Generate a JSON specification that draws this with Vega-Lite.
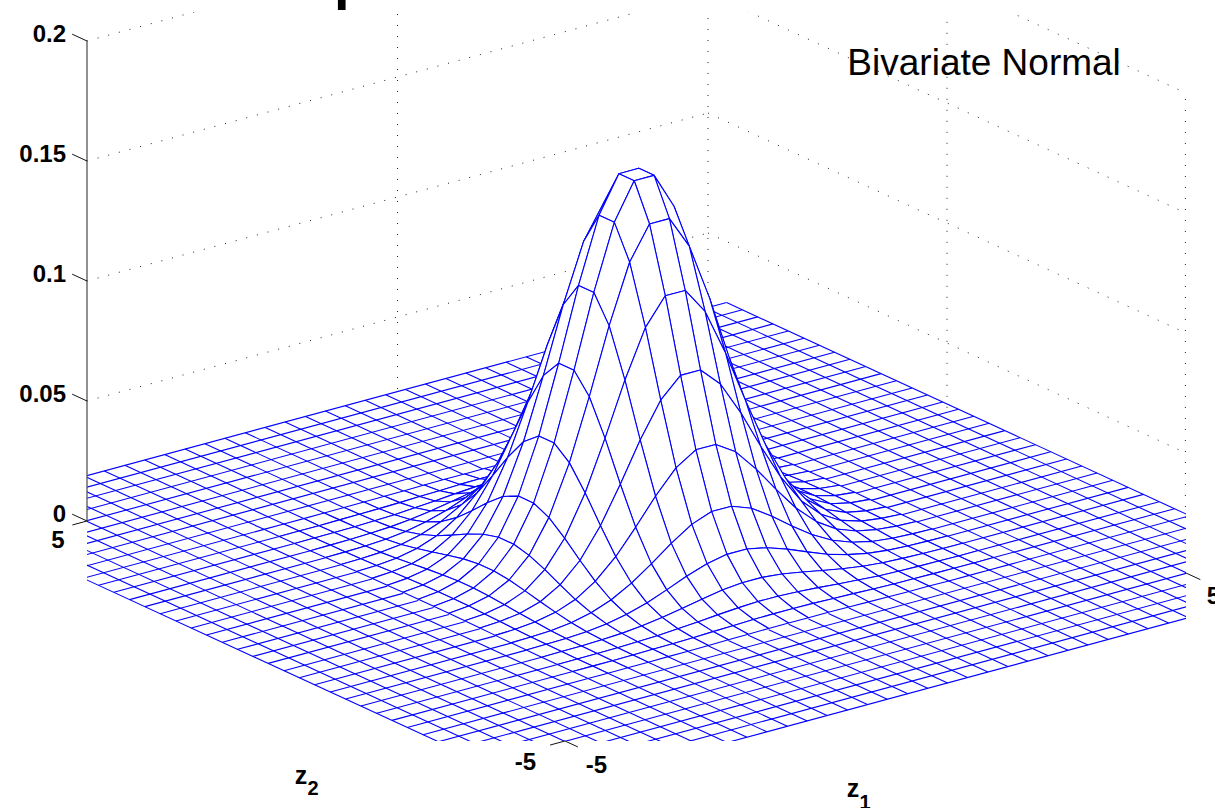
{"$schema":"https://vega.github.io/schema/vega-lite/v6.json","autosize":{"type":"none"},"padding":{"left":87,"top":12,"right":29,"bottom":67},"width":1099,"height":729,"background":"white","config":{"view":{"stroke":null}},"encoding":{"x":{"field":"x","type":"quantitative","scale":{"domain":[87,1186],"nice":false,"zero":false},"axis":null},"y":{"field":"y","type":"quantitative","scale":{"domain":[741,12],"nice":false,"zero":false},"axis":null}},"layer":[
{"data":{"values":[{"a":-5,"b":5,"h":0.05,"c":5,"d":5,"e":0.05},{"a":-5,"b":5,"h":0.1,"c":5,"d":5,"e":0.1},{"a":-5,"b":5,"h":0.15,"c":5,"d":5,"e":0.15},{"a":-5,"b":5,"h":0.2,"c":5,"d":5,"e":0.2},{"a":5,"b":5,"h":0.05,"c":5,"d":-5,"e":0.05},{"a":5,"b":5,"h":0.1,"c":5,"d":-5,"e":0.1},{"a":5,"b":5,"h":0.15,"c":5,"d":-5,"e":0.15},{"a":5,"b":5,"h":0.2,"c":5,"d":-5,"e":0.2},{"a":0,"b":5,"h":0.02,"c":0,"d":5,"e":0.2},{"a":5,"b":5,"h":0.02,"c":5,"d":5,"e":0.2},{"a":5,"b":0,"h":0.023,"c":5,"d":0,"e":0.2},{"a":4.99,"b":-5,"h":0.023,"c":4.99,"d":-5,"e":0.2}]},"transform":[{"calculate":"636.5+62.1*datum.a-47.8*datum.b","as":"x"},{"calculate":"547-16.8*datum.a-22*datum.b-2400*datum.h","as":"y"},{"calculate":"636.5+62.1*datum.c-47.8*datum.d","as":"xe"},{"calculate":"547-16.8*datum.c-22*datum.d-2400*datum.e","as":"ye"}],"mark":{"type":"rule","clip":true,"color":"#222222","strokeWidth":1,"strokeDash":[1,10]},"encoding":{"x2":{"field":"xe"},"y2":{"field":"ye"}}},
{"data":{"name":"mesh","values":[{"k":-6.3},{"k":-5.97},{"k":-5.65},{"k":-5.33},{"k":-5.01},{"k":-4.68},{"k":-4.36},{"k":-4.04},{"k":-3.72},{"k":-3.39},{"k":-3.07},{"k":-2.75},{"k":-2.42},{"k":-2.1},{"k":-1.78},{"k":-1.45},{"k":-1.13},{"k":-0.81},{"k":-0.48},{"k":-0.16},{"k":0.16},{"k":0.48},{"k":0.81},{"k":1.13},{"k":1.45},{"k":1.78},{"k":2.1},{"k":2.42},{"k":2.75},{"k":3.07},{"k":3.39},{"k":3.72},{"k":4.04},{"k":4.36},{"k":4.68},{"k":5.01},{"k":5.33},{"k":5.65},{"k":5.97},{"k":6.3}]},"transform":[{"calculate":"abs(datum.k)<3.4?[-6.3,3.39]:[-6.3]","as":"u"},{"calculate":"abs(datum.k)<3.4?[-3.39,6.3]:[6.3]","as":"v"},{"flatten":["u","v"]},{"calculate":"636.5+62.1*datum.k-47.8*datum.u","as":"x"},{"calculate":"547-16.8*datum.k-22*datum.u","as":"y"},{"calculate":"636.5+62.1*datum.k-47.8*datum.v","as":"xe"},{"calculate":"547-16.8*datum.k-22*datum.v","as":"ye"}],"mark":{"type":"rule","clip":true,"color":"#0000ff","strokeWidth":1.1},"encoding":{"x2":{"field":"xe"},"y2":{"field":"ye"}}},
{"data":{"name":"mesh"},"transform":[{"calculate":"abs(datum.k)<3.4?[-6.3,3.39]:[-6.3]","as":"u"},{"calculate":"abs(datum.k)<3.4?[-3.39,6.3]:[6.3]","as":"v"},{"flatten":["u","v"]},{"calculate":"636.5+62.1*datum.u-47.8*datum.k","as":"x"},{"calculate":"547-16.8*datum.u-22*datum.k","as":"y"},{"calculate":"636.5+62.1*datum.v-47.8*datum.k","as":"xe"},{"calculate":"547-16.8*datum.v-22*datum.k","as":"ye"}],"mark":{"type":"rule","clip":true,"color":"#0000ff","strokeWidth":1.1},"encoding":{"x2":{"field":"xe"},"y2":{"field":"ye"}}},
{"data":{"values":[
{"a":3.39,"b":3.39,"h":0},{"a":3.39,"b":3.07,"h":0},{"a":3.39,"b":2.75,"h":0},{"a":3.39,"b":2.42,"h":0},{"a":3.39,"b":2.1,"h":0.0001},{"a":3.39,"b":1.78,"h":0.0001},{"a":3.39,"b":1.45,"h":0.0002},{"a":3.39,"b":1.13,"h":0.0003},{"a":3.39,"b":0.81,"h":0.0004},{"a":3.39,"b":0.48,"h":0.0005},{"a":3.39,"b":0.16,"h":0.0005},{"a":3.39,"b":-0.16,"h":0.0005},{"a":3.39,"b":-0.48,"h":0.0005},{"a":3.39,"b":-0.81,"h":0.0004},{"a":3.39,"b":-1.13,"h":0.0003},{"a":3.39,"b":-1.45,"h":0.0002},{"a":3.39,"b":-1.78,"h":0.0001},{"a":3.39,"b":-2.1,"h":0.0001},{"a":3.39,"b":-2.42,"h":0},{"a":3.39,"b":-2.75,"h":0},{"a":3.39,"b":-3.07,"h":0},{"a":3.39,"b":-3.39,"h":0},
{"a":3.07,"b":3.39,"h":0},{"a":3.07,"b":3.07,"h":0},{"a":3.07,"b":2.75,"h":0},{"a":3.07,"b":2.42,"h":0.0001},{"a":3.07,"b":2.1,"h":0.0002},{"a":3.07,"b":1.78,"h":0.0003},{"a":3.07,"b":1.45,"h":0.0005},{"a":3.07,"b":1.13,"h":0.0008},{"a":3.07,"b":0.81,"h":0.001},{"a":3.07,"b":0.48,"h":0.0013},{"a":3.07,"b":0.16,"h":0.0014},{"a":3.07,"b":-0.16,"h":0.0014},{"a":3.07,"b":-0.48,"h":0.0013},{"a":3.07,"b":-0.81,"h":0.001},{"a":3.07,"b":-1.13,"h":0.0008},{"a":3.07,"b":-1.45,"h":0.0005},{"a":3.07,"b":-1.78,"h":0.0003},{"a":3.07,"b":-2.1,"h":0.0002},{"a":3.07,"b":-2.42,"h":0.0001},{"a":3.07,"b":-2.75,"h":0},{"a":3.07,"b":-3.07,"h":0},{"a":3.07,"b":-3.39,"h":0},
{"a":2.75,"b":3.39,"h":0},{"a":2.75,"b":3.07,"h":0},{"a":2.75,"b":2.75,"h":0.0001},{"a":2.75,"b":2.42,"h":0.0002},{"a":2.75,"b":2.1,"h":0.0004},{"a":2.75,"b":1.78,"h":0.0007},{"a":2.75,"b":1.45,"h":0.0013},{"a":2.75,"b":1.13,"h":0.0019},{"a":2.75,"b":0.81,"h":0.0026},{"a":2.75,"b":0.48,"h":0.0032},{"a":2.75,"b":0.16,"h":0.0036},{"a":2.75,"b":-0.16,"h":0.0036},{"a":2.75,"b":-0.48,"h":0.0032},{"a":2.75,"b":-0.81,"h":0.0026},{"a":2.75,"b":-1.13,"h":0.0019},{"a":2.75,"b":-1.45,"h":0.0013},{"a":2.75,"b":-1.78,"h":0.0007},{"a":2.75,"b":-2.1,"h":0.0004},{"a":2.75,"b":-2.42,"h":0.0002},{"a":2.75,"b":-2.75,"h":0.0001},{"a":2.75,"b":-3.07,"h":0},{"a":2.75,"b":-3.39,"h":0},
{"a":2.42,"b":3.39,"h":0},{"a":2.42,"b":3.07,"h":0.0001},{"a":2.42,"b":2.75,"h":0.0002},{"a":2.42,"b":2.42,"h":0.0005},{"a":2.42,"b":2.1,"h":0.0009},{"a":2.42,"b":1.78,"h":0.0017},{"a":2.42,"b":1.45,"h":0.003},{"a":2.42,"b":1.13,"h":0.0045},{"a":2.42,"b":0.81,"h":0.0061},{"a":2.42,"b":0.48,"h":0.0076},{"a":2.42,"b":0.16,"h":0.0084},{"a":2.42,"b":-0.16,"h":0.0084},{"a":2.42,"b":-0.48,"h":0.0076},{"a":2.42,"b":-0.81,"h":0.0061},{"a":2.42,"b":-1.13,"h":0.0045},{"a":2.42,"b":-1.45,"h":0.003},{"a":2.42,"b":-1.78,"h":0.0017},{"a":2.42,"b":-2.1,"h":0.0009},{"a":2.42,"b":-2.42,"h":0.0005},{"a":2.42,"b":-2.75,"h":0.0002},{"a":2.42,"b":-3.07,"h":0.0001},{"a":2.42,"b":-3.39,"h":0},
{"a":2.1,"b":3.39,"h":0.0001},{"a":2.1,"b":3.07,"h":0.0002},{"a":2.1,"b":2.75,"h":0.0004},{"a":2.1,"b":2.42,"h":0.0009},{"a":2.1,"b":2.1,"h":0.0019},{"a":2.1,"b":1.78,"h":0.0036},{"a":2.1,"b":1.45,"h":0.0061},{"a":2.1,"b":1.13,"h":0.0093},{"a":2.1,"b":0.81,"h":0.0127},{"a":2.1,"b":0.48,"h":0.0156},{"a":2.1,"b":0.16,"h":0.0173},{"a":2.1,"b":-0.16,"h":0.0173},{"a":2.1,"b":-0.48,"h":0.0156},{"a":2.1,"b":-0.81,"h":0.0127},{"a":2.1,"b":-1.13,"h":0.0093},{"a":2.1,"b":-1.45,"h":0.0061},{"a":2.1,"b":-1.78,"h":0.0036},{"a":2.1,"b":-2.1,"h":0.0019},{"a":2.1,"b":-2.42,"h":0.0009},{"a":2.1,"b":-2.75,"h":0.0004},{"a":2.1,"b":-3.07,"h":0.0002},{"a":2.1,"b":-3.39,"h":0.0001},
{"a":1.78,"b":3.39,"h":0.0001},{"a":1.78,"b":3.07,"h":0.0003},{"a":1.78,"b":2.75,"h":0.0007},{"a":1.78,"b":2.42,"h":0.0017},{"a":1.78,"b":2.1,"h":0.0036},{"a":1.78,"b":1.78,"h":0.0067},{"a":1.78,"b":1.45,"h":0.0114},{"a":1.78,"b":1.13,"h":0.0172},{"a":1.78,"b":0.81,"h":0.0235},{"a":1.78,"b":0.48,"h":0.0291},{"a":1.78,"b":0.16,"h":0.0322},{"a":1.78,"b":-0.16,"h":0.0322},{"a":1.78,"b":-0.48,"h":0.0291},{"a":1.78,"b":-0.81,"h":0.0235},{"a":1.78,"b":-1.13,"h":0.0172},{"a":1.78,"b":-1.45,"h":0.0114},{"a":1.78,"b":-1.78,"h":0.0067},{"a":1.78,"b":-2.1,"h":0.0036},{"a":1.78,"b":-2.42,"h":0.0017},{"a":1.78,"b":-2.75,"h":0.0007},{"a":1.78,"b":-3.07,"h":0.0003},{"a":1.78,"b":-3.39,"h":0.0001},
{"a":1.45,"b":3.39,"h":0.0002},{"a":1.45,"b":3.07,"h":0.0005},{"a":1.45,"b":2.75,"h":0.0013},{"a":1.45,"b":2.42,"h":0.003},{"a":1.45,"b":2.1,"h":0.0061},{"a":1.45,"b":1.78,"h":0.0114},{"a":1.45,"b":1.45,"h":0.0194},{"a":1.45,"b":1.13,"h":0.0294},{"a":1.45,"b":0.81,"h":0.0401},{"a":1.45,"b":0.48,"h":0.0496},{"a":1.45,"b":0.16,"h":0.0549},{"a":1.45,"b":-0.16,"h":0.0549},{"a":1.45,"b":-0.48,"h":0.0496},{"a":1.45,"b":-0.81,"h":0.0401},{"a":1.45,"b":-1.13,"h":0.0294},{"a":1.45,"b":-1.45,"h":0.0194},{"a":1.45,"b":-1.78,"h":0.0114},{"a":1.45,"b":-2.1,"h":0.0061},{"a":1.45,"b":-2.42,"h":0.003},{"a":1.45,"b":-2.75,"h":0.0013},{"a":1.45,"b":-3.07,"h":0.0005},{"a":1.45,"b":-3.39,"h":0.0002},
{"a":1.13,"b":3.39,"h":0.0003},{"a":1.13,"b":3.07,"h":0.0008},{"a":1.13,"b":2.75,"h":0.0019},{"a":1.13,"b":2.42,"h":0.0045},{"a":1.13,"b":2.1,"h":0.0093},{"a":1.13,"b":1.78,"h":0.0172},{"a":1.13,"b":1.45,"h":0.0294},{"a":1.13,"b":1.13,"h":0.0444},{"a":1.13,"b":0.81,"h":0.0606},{"a":1.13,"b":0.48,"h":0.0749},{"a":1.13,"b":0.16,"h":0.083},{"a":1.13,"b":-0.16,"h":0.083},{"a":1.13,"b":-0.48,"h":0.0749},{"a":1.13,"b":-0.81,"h":0.0606},{"a":1.13,"b":-1.13,"h":0.0444},{"a":1.13,"b":-1.45,"h":0.0294},{"a":1.13,"b":-1.78,"h":0.0172},{"a":1.13,"b":-2.1,"h":0.0093},{"a":1.13,"b":-2.42,"h":0.0045},{"a":1.13,"b":-2.75,"h":0.0019},{"a":1.13,"b":-3.07,"h":0.0008},{"a":1.13,"b":-3.39,"h":0.0003},
{"a":0.81,"b":3.39,"h":0.0004},{"a":0.81,"b":3.07,"h":0.001},{"a":0.81,"b":2.75,"h":0.0026},{"a":0.81,"b":2.42,"h":0.0061},{"a":0.81,"b":2.1,"h":0.0127},{"a":0.81,"b":1.78,"h":0.0235},{"a":0.81,"b":1.45,"h":0.0401},{"a":0.81,"b":1.13,"h":0.0606},{"a":0.81,"b":0.81,"h":0.0826},{"a":0.81,"b":0.48,"h":0.1022},{"a":0.81,"b":0.16,"h":0.1132},{"a":0.81,"b":-0.16,"h":0.1132},{"a":0.81,"b":-0.48,"h":0.1022},{"a":0.81,"b":-0.81,"h":0.0826},{"a":0.81,"b":-1.13,"h":0.0606},{"a":0.81,"b":-1.45,"h":0.0401},{"a":0.81,"b":-1.78,"h":0.0235},{"a":0.81,"b":-2.1,"h":0.0127},{"a":0.81,"b":-2.42,"h":0.0061},{"a":0.81,"b":-2.75,"h":0.0026},{"a":0.81,"b":-3.07,"h":0.001},{"a":0.81,"b":-3.39,"h":0.0004},
{"a":0.48,"b":3.39,"h":0.0005},{"a":0.48,"b":3.07,"h":0.0013},{"a":0.48,"b":2.75,"h":0.0032},{"a":0.48,"b":2.42,"h":0.0076},{"a":0.48,"b":2.1,"h":0.0156},{"a":0.48,"b":1.78,"h":0.0291},{"a":0.48,"b":1.45,"h":0.0496},{"a":0.48,"b":1.13,"h":0.0749},{"a":0.48,"b":0.81,"h":0.1022},{"a":0.48,"b":0.48,"h":0.1264},{"a":0.48,"b":0.16,"h":0.1401},{"a":0.48,"b":-0.16,"h":0.1401},{"a":0.48,"b":-0.48,"h":0.1264},{"a":0.48,"b":-0.81,"h":0.1022},{"a":0.48,"b":-1.13,"h":0.0749},{"a":0.48,"b":-1.45,"h":0.0496},{"a":0.48,"b":-1.78,"h":0.0291},{"a":0.48,"b":-2.1,"h":0.0156},{"a":0.48,"b":-2.42,"h":0.0076},{"a":0.48,"b":-2.75,"h":0.0032},{"a":0.48,"b":-3.07,"h":0.0013},{"a":0.48,"b":-3.39,"h":0.0005},
{"a":0.16,"b":3.39,"h":0.0005},{"a":0.16,"b":3.07,"h":0.0014},{"a":0.16,"b":2.75,"h":0.0036},{"a":0.16,"b":2.42,"h":0.0084},{"a":0.16,"b":2.1,"h":0.0173},{"a":0.16,"b":1.78,"h":0.0322},{"a":0.16,"b":1.45,"h":0.0549},{"a":0.16,"b":1.13,"h":0.083},{"a":0.16,"b":0.81,"h":0.1132},{"a":0.16,"b":0.48,"h":0.1401},{"a":0.16,"b":0.16,"h":0.1552},{"a":0.16,"b":-0.16,"h":0.1552},{"a":0.16,"b":-0.48,"h":0.1401},{"a":0.16,"b":-0.81,"h":0.1132},{"a":0.16,"b":-1.13,"h":0.083},{"a":0.16,"b":-1.45,"h":0.0549},{"a":0.16,"b":-1.78,"h":0.0322},{"a":0.16,"b":-2.1,"h":0.0173},{"a":0.16,"b":-2.42,"h":0.0084},{"a":0.16,"b":-2.75,"h":0.0036},{"a":0.16,"b":-3.07,"h":0.0014},{"a":0.16,"b":-3.39,"h":0.0005},
{"a":-0.16,"b":3.39,"h":0.0005},{"a":-0.16,"b":3.07,"h":0.0014},{"a":-0.16,"b":2.75,"h":0.0036},{"a":-0.16,"b":2.42,"h":0.0084},{"a":-0.16,"b":2.1,"h":0.0173},{"a":-0.16,"b":1.78,"h":0.0322},{"a":-0.16,"b":1.45,"h":0.0549},{"a":-0.16,"b":1.13,"h":0.083},{"a":-0.16,"b":0.81,"h":0.1132},{"a":-0.16,"b":0.48,"h":0.1401},{"a":-0.16,"b":0.16,"h":0.1552},{"a":-0.16,"b":-0.16,"h":0.1552},{"a":-0.16,"b":-0.48,"h":0.1401},{"a":-0.16,"b":-0.81,"h":0.1132},{"a":-0.16,"b":-1.13,"h":0.083},{"a":-0.16,"b":-1.45,"h":0.0549},{"a":-0.16,"b":-1.78,"h":0.0322},{"a":-0.16,"b":-2.1,"h":0.0173},{"a":-0.16,"b":-2.42,"h":0.0084},{"a":-0.16,"b":-2.75,"h":0.0036},{"a":-0.16,"b":-3.07,"h":0.0014},{"a":-0.16,"b":-3.39,"h":0.0005},
{"a":-0.48,"b":3.39,"h":0.0005},{"a":-0.48,"b":3.07,"h":0.0013},{"a":-0.48,"b":2.75,"h":0.0032},{"a":-0.48,"b":2.42,"h":0.0076},{"a":-0.48,"b":2.1,"h":0.0156},{"a":-0.48,"b":1.78,"h":0.0291},{"a":-0.48,"b":1.45,"h":0.0496},{"a":-0.48,"b":1.13,"h":0.0749},{"a":-0.48,"b":0.81,"h":0.1022},{"a":-0.48,"b":0.48,"h":0.1264},{"a":-0.48,"b":0.16,"h":0.1401},{"a":-0.48,"b":-0.16,"h":0.1401},{"a":-0.48,"b":-0.48,"h":0.1264},{"a":-0.48,"b":-0.81,"h":0.1022},{"a":-0.48,"b":-1.13,"h":0.0749},{"a":-0.48,"b":-1.45,"h":0.0496},{"a":-0.48,"b":-1.78,"h":0.0291},{"a":-0.48,"b":-2.1,"h":0.0156},{"a":-0.48,"b":-2.42,"h":0.0076},{"a":-0.48,"b":-2.75,"h":0.0032},{"a":-0.48,"b":-3.07,"h":0.0013},{"a":-0.48,"b":-3.39,"h":0.0005},
{"a":-0.81,"b":3.39,"h":0.0004},{"a":-0.81,"b":3.07,"h":0.001},{"a":-0.81,"b":2.75,"h":0.0026},{"a":-0.81,"b":2.42,"h":0.0061},{"a":-0.81,"b":2.1,"h":0.0127},{"a":-0.81,"b":1.78,"h":0.0235},{"a":-0.81,"b":1.45,"h":0.0401},{"a":-0.81,"b":1.13,"h":0.0606},{"a":-0.81,"b":0.81,"h":0.0826},{"a":-0.81,"b":0.48,"h":0.1022},{"a":-0.81,"b":0.16,"h":0.1132},{"a":-0.81,"b":-0.16,"h":0.1132},{"a":-0.81,"b":-0.48,"h":0.1022},{"a":-0.81,"b":-0.81,"h":0.0826},{"a":-0.81,"b":-1.13,"h":0.0606},{"a":-0.81,"b":-1.45,"h":0.0401},{"a":-0.81,"b":-1.78,"h":0.0235},{"a":-0.81,"b":-2.1,"h":0.0127},{"a":-0.81,"b":-2.42,"h":0.0061},{"a":-0.81,"b":-2.75,"h":0.0026},{"a":-0.81,"b":-3.07,"h":0.001},{"a":-0.81,"b":-3.39,"h":0.0004},
{"a":-1.13,"b":3.39,"h":0.0003},{"a":-1.13,"b":3.07,"h":0.0008},{"a":-1.13,"b":2.75,"h":0.0019},{"a":-1.13,"b":2.42,"h":0.0045},{"a":-1.13,"b":2.1,"h":0.0093},{"a":-1.13,"b":1.78,"h":0.0172},{"a":-1.13,"b":1.45,"h":0.0294},{"a":-1.13,"b":1.13,"h":0.0444},{"a":-1.13,"b":0.81,"h":0.0606},{"a":-1.13,"b":0.48,"h":0.0749},{"a":-1.13,"b":0.16,"h":0.083},{"a":-1.13,"b":-0.16,"h":0.083},{"a":-1.13,"b":-0.48,"h":0.0749},{"a":-1.13,"b":-0.81,"h":0.0606},{"a":-1.13,"b":-1.13,"h":0.0444},{"a":-1.13,"b":-1.45,"h":0.0294},{"a":-1.13,"b":-1.78,"h":0.0172},{"a":-1.13,"b":-2.1,"h":0.0093},{"a":-1.13,"b":-2.42,"h":0.0045},{"a":-1.13,"b":-2.75,"h":0.0019},{"a":-1.13,"b":-3.07,"h":0.0008},{"a":-1.13,"b":-3.39,"h":0.0003},
{"a":-1.45,"b":3.39,"h":0.0002},{"a":-1.45,"b":3.07,"h":0.0005},{"a":-1.45,"b":2.75,"h":0.0013},{"a":-1.45,"b":2.42,"h":0.003},{"a":-1.45,"b":2.1,"h":0.0061},{"a":-1.45,"b":1.78,"h":0.0114},{"a":-1.45,"b":1.45,"h":0.0194},{"a":-1.45,"b":1.13,"h":0.0294},{"a":-1.45,"b":0.81,"h":0.0401},{"a":-1.45,"b":0.48,"h":0.0496},{"a":-1.45,"b":0.16,"h":0.0549},{"a":-1.45,"b":-0.16,"h":0.0549},{"a":-1.45,"b":-0.48,"h":0.0496},{"a":-1.45,"b":-0.81,"h":0.0401},{"a":-1.45,"b":-1.13,"h":0.0294},{"a":-1.45,"b":-1.45,"h":0.0194},{"a":-1.45,"b":-1.78,"h":0.0114},{"a":-1.45,"b":-2.1,"h":0.0061},{"a":-1.45,"b":-2.42,"h":0.003},{"a":-1.45,"b":-2.75,"h":0.0013},{"a":-1.45,"b":-3.07,"h":0.0005},{"a":-1.45,"b":-3.39,"h":0.0002},
{"a":-1.78,"b":3.39,"h":0.0001},{"a":-1.78,"b":3.07,"h":0.0003},{"a":-1.78,"b":2.75,"h":0.0007},{"a":-1.78,"b":2.42,"h":0.0017},{"a":-1.78,"b":2.1,"h":0.0036},{"a":-1.78,"b":1.78,"h":0.0067},{"a":-1.78,"b":1.45,"h":0.0114},{"a":-1.78,"b":1.13,"h":0.0172},{"a":-1.78,"b":0.81,"h":0.0235},{"a":-1.78,"b":0.48,"h":0.0291},{"a":-1.78,"b":0.16,"h":0.0322},{"a":-1.78,"b":-0.16,"h":0.0322},{"a":-1.78,"b":-0.48,"h":0.0291},{"a":-1.78,"b":-0.81,"h":0.0235},{"a":-1.78,"b":-1.13,"h":0.0172},{"a":-1.78,"b":-1.45,"h":0.0114},{"a":-1.78,"b":-1.78,"h":0.0067},{"a":-1.78,"b":-2.1,"h":0.0036},{"a":-1.78,"b":-2.42,"h":0.0017},{"a":-1.78,"b":-2.75,"h":0.0007},{"a":-1.78,"b":-3.07,"h":0.0003},{"a":-1.78,"b":-3.39,"h":0.0001},
{"a":-2.1,"b":3.39,"h":0.0001},{"a":-2.1,"b":3.07,"h":0.0002},{"a":-2.1,"b":2.75,"h":0.0004},{"a":-2.1,"b":2.42,"h":0.0009},{"a":-2.1,"b":2.1,"h":0.0019},{"a":-2.1,"b":1.78,"h":0.0036},{"a":-2.1,"b":1.45,"h":0.0061},{"a":-2.1,"b":1.13,"h":0.0093},{"a":-2.1,"b":0.81,"h":0.0127},{"a":-2.1,"b":0.48,"h":0.0156},{"a":-2.1,"b":0.16,"h":0.0173},{"a":-2.1,"b":-0.16,"h":0.0173},{"a":-2.1,"b":-0.48,"h":0.0156},{"a":-2.1,"b":-0.81,"h":0.0127},{"a":-2.1,"b":-1.13,"h":0.0093},{"a":-2.1,"b":-1.45,"h":0.0061},{"a":-2.1,"b":-1.78,"h":0.0036},{"a":-2.1,"b":-2.1,"h":0.0019},{"a":-2.1,"b":-2.42,"h":0.0009},{"a":-2.1,"b":-2.75,"h":0.0004},{"a":-2.1,"b":-3.07,"h":0.0002},{"a":-2.1,"b":-3.39,"h":0.0001},
{"a":-2.42,"b":3.39,"h":0},{"a":-2.42,"b":3.07,"h":0.0001},{"a":-2.42,"b":2.75,"h":0.0002},{"a":-2.42,"b":2.42,"h":0.0005},{"a":-2.42,"b":2.1,"h":0.0009},{"a":-2.42,"b":1.78,"h":0.0017},{"a":-2.42,"b":1.45,"h":0.003},{"a":-2.42,"b":1.13,"h":0.0045},{"a":-2.42,"b":0.81,"h":0.0061},{"a":-2.42,"b":0.48,"h":0.0076},{"a":-2.42,"b":0.16,"h":0.0084},{"a":-2.42,"b":-0.16,"h":0.0084},{"a":-2.42,"b":-0.48,"h":0.0076},{"a":-2.42,"b":-0.81,"h":0.0061},{"a":-2.42,"b":-1.13,"h":0.0045},{"a":-2.42,"b":-1.45,"h":0.003},{"a":-2.42,"b":-1.78,"h":0.0017},{"a":-2.42,"b":-2.1,"h":0.0009},{"a":-2.42,"b":-2.42,"h":0.0005},{"a":-2.42,"b":-2.75,"h":0.0002},{"a":-2.42,"b":-3.07,"h":0.0001},{"a":-2.42,"b":-3.39,"h":0},
{"a":-2.75,"b":3.39,"h":0},{"a":-2.75,"b":3.07,"h":0},{"a":-2.75,"b":2.75,"h":0.0001},{"a":-2.75,"b":2.42,"h":0.0002},{"a":-2.75,"b":2.1,"h":0.0004},{"a":-2.75,"b":1.78,"h":0.0007},{"a":-2.75,"b":1.45,"h":0.0013},{"a":-2.75,"b":1.13,"h":0.0019},{"a":-2.75,"b":0.81,"h":0.0026},{"a":-2.75,"b":0.48,"h":0.0032},{"a":-2.75,"b":0.16,"h":0.0036},{"a":-2.75,"b":-0.16,"h":0.0036},{"a":-2.75,"b":-0.48,"h":0.0032},{"a":-2.75,"b":-0.81,"h":0.0026},{"a":-2.75,"b":-1.13,"h":0.0019},{"a":-2.75,"b":-1.45,"h":0.0013},{"a":-2.75,"b":-1.78,"h":0.0007},{"a":-2.75,"b":-2.1,"h":0.0004},{"a":-2.75,"b":-2.42,"h":0.0002},{"a":-2.75,"b":-2.75,"h":0.0001},{"a":-2.75,"b":-3.07,"h":0},{"a":-2.75,"b":-3.39,"h":0},
{"a":-3.07,"b":3.39,"h":0},{"a":-3.07,"b":3.07,"h":0},{"a":-3.07,"b":2.75,"h":0},{"a":-3.07,"b":2.42,"h":0.0001},{"a":-3.07,"b":2.1,"h":0.0002},{"a":-3.07,"b":1.78,"h":0.0003},{"a":-3.07,"b":1.45,"h":0.0005},{"a":-3.07,"b":1.13,"h":0.0008},{"a":-3.07,"b":0.81,"h":0.001},{"a":-3.07,"b":0.48,"h":0.0013},{"a":-3.07,"b":0.16,"h":0.0014},{"a":-3.07,"b":-0.16,"h":0.0014},{"a":-3.07,"b":-0.48,"h":0.0013},{"a":-3.07,"b":-0.81,"h":0.001},{"a":-3.07,"b":-1.13,"h":0.0008},{"a":-3.07,"b":-1.45,"h":0.0005},{"a":-3.07,"b":-1.78,"h":0.0003},{"a":-3.07,"b":-2.1,"h":0.0002},{"a":-3.07,"b":-2.42,"h":0.0001},{"a":-3.07,"b":-2.75,"h":0},{"a":-3.07,"b":-3.07,"h":0},{"a":-3.07,"b":-3.39,"h":0},
{"a":-3.39,"b":3.39,"h":0},{"a":-3.39,"b":3.07,"h":0},{"a":-3.39,"b":2.75,"h":0},{"a":-3.39,"b":2.42,"h":0},{"a":-3.39,"b":2.1,"h":0.0001},{"a":-3.39,"b":1.78,"h":0.0001},{"a":-3.39,"b":1.45,"h":0.0002},{"a":-3.39,"b":1.13,"h":0.0003},{"a":-3.39,"b":0.81,"h":0.0004},{"a":-3.39,"b":0.48,"h":0.0005},{"a":-3.39,"b":0.16,"h":0.0005},{"a":-3.39,"b":-0.16,"h":0.0005},{"a":-3.39,"b":-0.48,"h":0.0005},{"a":-3.39,"b":-0.81,"h":0.0004},{"a":-3.39,"b":-1.13,"h":0.0003},{"a":-3.39,"b":-1.45,"h":0.0002},{"a":-3.39,"b":-1.78,"h":0.0001},{"a":-3.39,"b":-2.1,"h":0.0001},{"a":-3.39,"b":-2.42,"h":0},{"a":-3.39,"b":-2.75,"h":0},{"a":-3.39,"b":-3.07,"h":0},{"a":-3.39,"b":-3.39,"h":0}
]},"transform":[{"calculate":"round(datum.a/0.323+10.5)","as":"i"},{"calculate":"round(datum.b/0.323+10.5)","as":"j"},{"calculate":"[datum.i*100+datum.j,datum.i*100+datum.j,(datum.i-1)*100+datum.j,(datum.i-1)*100+datum.j-1,datum.i*100+datum.j-1]","as":"q"},{"calculate":"[0,4,1,2,3]","as":"c"},{"flatten":["q","c"]},{"filter":"datum.q>=0 && floor(datum.q/100)<=20 && datum.q%100<=20"},{"calculate":"636.5+62.1*datum.a-47.8*datum.b","as":"x"},{"calculate":"547-16.8*datum.a-22*datum.b-2400*datum.h","as":"y"}],"mark":{"type":"line","stroke":"#0000ff","strokeWidth":1.1,"fill":"white","clip":true,"strokeJoin":"round"},"encoding":{"detail":{"field":"q","type":"nominal"},"order":{"field":"c","type":"quantitative"}}},
{"data":{"values":[{"a":-5,"b":5,"h":0,"c":-5,"d":5,"e":0.2}]},"transform":[{"calculate":"636.5+62.1*datum.a-47.8*datum.b","as":"x"},{"calculate":"547-16.8*datum.a-22*datum.b-2400*datum.h","as":"y"},{"calculate":"636.5+62.1*datum.c-47.8*datum.d","as":"xe"},{"calculate":"547-16.8*datum.c-22*datum.d-2400*datum.e","as":"ye"}],"mark":{"type":"rule","color":"#555555","strokeWidth":1.3},"encoding":{"x2":{"field":"xe"},"y2":{"field":"ye"}}},
{"data":{"values":[{"a":-5,"b":5,"h":0,"c":-5,"d":5.31,"e":0},{"a":-5,"b":5,"h":0.05,"c":-5,"d":5.31,"e":0.05},{"a":-5,"b":5,"h":0.1,"c":-5,"d":5.31,"e":0.1},{"a":-5,"b":5,"h":0.15,"c":-5,"d":5.31,"e":0.15},{"a":-5,"b":5,"h":0.2,"c":-5,"d":5.31,"e":0.2},{"a":-5,"b":5,"h":0,"c":-5.235,"d":5,"e":0},{"a":-5,"b":-5,"h":0,"c":-5.24,"d":-5,"e":0},{"a":-5,"b":-5,"h":0,"c":-5,"d":-5.27,"e":0},{"a":5,"b":-5,"h":0,"c":5,"d":-5.3,"e":0}]},"transform":[{"calculate":"636.5+62.1*datum.a-47.8*datum.b","as":"x"},{"calculate":"547-16.8*datum.a-22*datum.b-2400*datum.h","as":"y"},{"calculate":"636.5+62.1*datum.c-47.8*datum.d","as":"xe"},{"calculate":"547-16.8*datum.c-22*datum.d-2400*datum.e","as":"ye"}],"mark":{"type":"rule","color":"#111111","strokeWidth":1},"encoding":{"x2":{"field":"xe"},"y2":{"field":"ye"}}},
{"data":{"values":[{"a":-5,"b":5,"h":0,"t":"0"},{"a":-5,"b":5,"h":0.05,"t":"0.05"},{"a":-5,"b":5,"h":0.1,"t":"0.1"},{"a":-5,"b":5,"h":0.15,"t":"0.15"},{"a":-5,"b":5,"h":0.2,"t":"0.2"}]},"transform":[{"calculate":"636.5+62.1*datum.a-47.8*datum.b","as":"x"},{"calculate":"547-16.8*datum.a-22*datum.b-2400*datum.h","as":"y"}],"mark":{"type":"text","font":"Liberation Sans","fontWeight":"bold","fontSize":24,"color":"black","align":"right","baseline":"middle","dx":-21,"dy":-6.5},"encoding":{"text":{"field":"t"}}},
{"data":{"values":[{"a":-5.735,"b":4.652,"h":0,"t":"5"},{"a":-5.886,"b":-5.324,"h":0,"t":"-5"},{"a":-5.232,"b":-5.96,"h":0,"t":"-5"},{"a":4.75,"b":-5.9,"h":0,"t":"5"}]},"transform":[{"calculate":"636.5+62.1*datum.a-47.8*datum.b","as":"x"},{"calculate":"547-16.8*datum.a-22*datum.b-2400*datum.h","as":"y"}],"mark":{"type":"text","font":"Liberation Sans","fontWeight":"bold","fontSize":24,"color":"black","align":"center","baseline":"middle"},"encoding":{"text":{"field":"t"}}},
{"data":{"values":[{"a":-8.45,"b":-3.958,"h":0,"t":"z"},{"a":-3.137,"b":-8.605,"h":0,"t":"z"}]},"transform":[{"calculate":"636.5+62.1*datum.a-47.8*datum.b","as":"x"},{"calculate":"547-16.8*datum.a-22*datum.b-2400*datum.h","as":"y"}],"mark":{"type":"text","font":"Liberation Sans","fontWeight":"bold","fontSize":25,"color":"black","align":"center","baseline":"middle"},"encoding":{"text":{"field":"t"}}},
{"data":{"values":[{"a":-8.614,"b":-4.423,"h":0,"t":"2"},{"a":-3.324,"b":-9.1,"h":0,"t":"1"}]},"transform":[{"calculate":"636.5+62.1*datum.a-47.8*datum.b","as":"x"},{"calculate":"547-16.8*datum.a-22*datum.b-2400*datum.h","as":"y"}],"mark":{"type":"text","font":"Liberation Sans","fontWeight":"bold","fontSize":20,"color":"black","align":"center","baseline":"middle"},"encoding":{"text":{"field":"t"}}},
{"data":{"values":[{"a":12.54,"b":11.88,"h":0,"t":"Bivariate Normal"}]},"transform":[{"calculate":"636.5+62.1*datum.a-47.8*datum.b","as":"x"},{"calculate":"547-16.8*datum.a-22*datum.b-2400*datum.h","as":"y"}],"mark":{"type":"text","font":"Liberation Sans","fontSize":37,"color":"black","align":"left","baseline":"alphabetic"},"encoding":{"text":{"field":"t"}}},
{"data":{"values":[{"a":9.03,"b":18.06,"h":0,"t":"p"}]},"transform":[{"calculate":"636.5+62.1*datum.a-47.8*datum.b","as":"x"},{"calculate":"547-16.8*datum.a-22*datum.b-2400*datum.h","as":"y"}],"mark":{"type":"text","font":"Liberation Sans","fontWeight":"bold","fontSize":56,"color":"black","align":"left","baseline":"alphabetic"},"encoding":{"text":{"field":"t"}}}
]}
